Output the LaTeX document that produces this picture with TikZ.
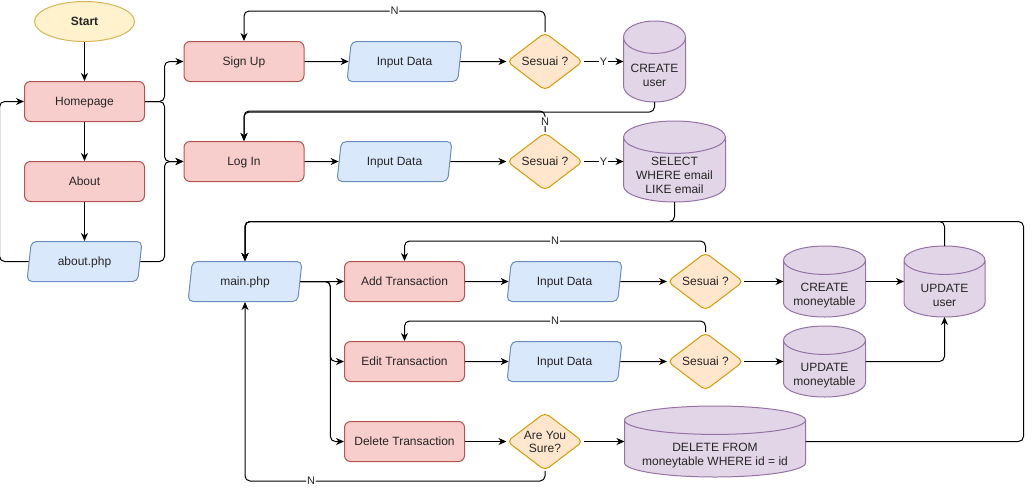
\documentclass[tikz,border=0pt]{standalone}
\usepackage{fontspec}
\setmainfont{Liberation Sans}
\usetikzlibrary{shapes.geometric}
\usetikzlibrary{arrows.meta}
\usetikzlibrary{calc}
\usetikzlibrary{backgrounds}

\definecolor{termfill}{HTML}{FFF2CC}
\definecolor{termline}{HTML}{D6B656}
\definecolor{procfill}{HTML}{F8CECC}
\definecolor{procline}{HTML}{B85450}
\definecolor{iofill}{HTML}{DAE8FC}
\definecolor{ioline}{HTML}{6C8EBF}
\definecolor{decfill}{HTML}{FFE6CC}
\definecolor{decline}{HTML}{D79B00}
\definecolor{dbfill}{HTML}{E1D5E7}
\definecolor{dbline}{HTML}{9673A6}

\tikzset{
  base/.style={font=\fontsize{12}{14}\selectfont, text=black!85, inner sep=0pt, align=center, line width=1pt},
  oneline/.style={text height=8.6pt, text depth=0pt},
  term/.style={base, oneline, ellipse, draw=termline, fill=termfill, minimum width=100pt, minimum height=40pt, font=\fontsize{12}{14}\selectfont\bfseries},
  proc/.style={base, oneline, rectangle, rounded corners=6pt, draw=procline, fill=procfill, minimum width=120pt, minimum height=40pt},
  io/.style={base, oneline, trapezium, trapezium left angle=63.4, trapezium right angle=116.6, trapezium stretches body, rounded corners=5pt, draw=ioline, fill=iofill, minimum width=115pt, minimum height=40pt},
  dec/.style={base, diamond, shape aspect=1.3, rounded corners=5pt, draw=decline, fill=decfill, minimum width=76pt, minimum height=58pt, font=\fontsize{12}{13}\selectfont},
  db/.style={base, rectangle},
  dbtext/.style={base, yshift=-14pt},
  dbpath/.style={draw=dbline, fill=dbfill, line width=1pt},
  conn/.style={line width=1pt, rounded corners=5pt, -{Stealth[length=8pt, width=7pt, inset=2.5pt]}},
  lbl/.style={font=\fontsize{11}{13}\selectfont, text=black!85, fill=white, inner sep=1pt},
}

\newcommand{\dbshape}[1]{%
  \path[dbpath] let \p1=(#1.north west), \p2=(#1.south east),
    \n1={(\x2-\x1)/2}, \n2={(\y1-\y2)/5} in
    (\x1,\y1-\n2) -- (\x1,\y2+\n2)
    arc[start angle=180, end angle=360, x radius=\n1, y radius=\n2]
    -- (\x2,\y1-\n2)
    arc[start angle=0, end angle=180, x radius=\n1, y radius=\n2] -- cycle
    (\x1,\y1-\n2) arc[start angle=180, end angle=360, x radius=\n1, y radius=\n2];}

\begin{document}
\begin{tikzpicture}[x=1pt,y=-1pt]
      \useasboundingbox (0,0) rectangle (1034,491);

      \node (start) at (84.5,21.5) [term] {Start};
      \node (home) at (84.5,101.5) [proc] {Homepage};
      \node (about) at (84.5,181.5) [proc] {About};
      \node (aboutphp) at (84.5,261.5) [io] {about.php};

      \node (signup) at (244,61.5) [proc] {Sign Up};
      \node (in1) at (404.5,61.5) [io] {Input Data};
      \node (s1) at (545,61.5) [dec, oneline] {Sesuai ?};
      \node (cu) at (654.5,61.5) [db, minimum width=61pt, minimum height=80pt, label={[dbtext]center:{CREATE\\user}}] {};

      \node (login) at (244,161.5) [proc] {Log In};
      \node (in2) at (394.5,161.5) [io] {Input Data};
      \node (s2) at (545,161.5) [dec, oneline] {Sesuai ?};
      \node (sel) at (674.5,161.5) [db, minimum width=101pt, minimum height=80pt, label={[dbtext]center:{SELECT\\WHERE email\\LIKE email}}] {};

      \node (mainphp) at (245,281.5) [io, minimum width=114pt] {main.php};
      \node (add) at (404.5,281.5) [proc] {Add Transaction};
      \node (in3) at (564.5,281.5) [io] {Input Data};
      \node (s3) at (705.5,281.5) [dec, oneline] {Sesuai ?};
      \node (cm) at (824.5,281.5) [db, minimum width=81pt, minimum height=70pt, label={[dbtext]center:{CREATE\\moneytable}}] {};
      \node (uu) at (944.5,281.5) [db, minimum width=80pt, minimum height=70pt, label={[dbtext]center:{UPDATE\\user}}] {};

      \node (edit) at (404.5,361.5) [proc] {Edit Transaction};
      \node (in4) at (564.5,361.5) [io] {Input Data};
      \node (s4) at (705.5,361.5) [dec, oneline] {Sesuai ?};
      \node (um) at (824.5,361.5) [db, minimum width=81pt, minimum height=70pt, label={[dbtext]center:{UPDATE\\moneytable}}] {};

      \node (del) at (404.5,441.5) [proc] {Delete Transaction};
      \node (sure) at (545,441.5) [dec] {Are You\\Sure?};
      \node (dd) at (715,441.5) [db, minimum width=180pt, minimum height=70pt, label={[dbtext]center:{DELETE FROM\\moneytable WHERE id = id}}] {};

      \coordinate (hb) at (164.5,0);
      \coordinate (rt) at (1023.5,221.5);

      \begin{scope}[on background layer]
        \foreach \cyl in {cu,sel,cm,uu,um,dd} {\dbshape{\cyl}}
      \end{scope}

      \draw[conn] (start) -- (home);
      \draw[conn] (home) -- (about);
      \draw[conn] (about) -- (aboutphp);
      \draw[conn] (aboutphp.west) -- ++(-29,0) |- (home.west);
      \draw[conn] (home.east) -- (home.east -| hb) |- (signup.west);
      \draw[conn] (home.east) -- (home.east -| hb) |- (login.west);
      \draw[conn] (aboutphp.east) -- (aboutphp.east -| hb) |- (login.west);

      \draw[conn] (signup) -- (in1);
      \draw[conn] (in1) -- (s1);
      \draw[conn] (s1) -- node[lbl]{Y} (cu);
      \draw[conn] (s1.north) -- ++(0,-21) -| node[lbl,pos=0.25]{N} (signup.north);
      \draw[conn] (cu.south) -- ++(0,10) -| (login.north);

      \draw[conn] (login) -- (in2);
      \draw[conn] (in2) -- (s2);
      \draw[conn] (s2) -- node[lbl]{Y} (sel);
      \draw[conn] (s2.north) -- node[lbl]{N} ++(0,-21) -| (login.north);
      \draw[conn] (sel.south) -- (sel.south |- rt) -| (mainphp.north);

      \draw[conn] (mainphp) -- (add);
      \draw[conn] (mainphp.east) -- ++(30,0) |- (edit.west);
      \draw[conn] (mainphp.east) -- ++(30,0) |- (del.west);
      \draw[conn] (add) -- (in3);
      \draw[conn] (in3) -- (s3);
      \draw[conn] (s3) -- (cm);
      \draw[conn] (cm) -- (uu);
      \draw[conn] (s3.north) -- ++(0,-11) -| node[lbl,pos=0.25]{N} (add.north);
      \draw[conn] (uu.north) -- (uu.north |- rt) -| (mainphp.north);

      \draw[conn] (edit) -- (in4);
      \draw[conn] (in4) -- (s4);
      \draw[conn] (s4) -- (um);
      \draw[conn] (um.east) -| (uu.south);
      \draw[conn] (s4.north) -- ++(0,-11) -| node[lbl,pos=0.25]{N} (edit.north);

      \draw[conn] (del) -- (sure);
      \draw[conn] (sure) -- (dd);
      \draw[conn] (sure.south) -- ++(0,10) -| node[lbl,pos=0.39]{N} (mainphp.south);
      \draw[conn] (dd.east) -| (rt) -| (mainphp.north);
    \end{tikzpicture}
\end{document}
